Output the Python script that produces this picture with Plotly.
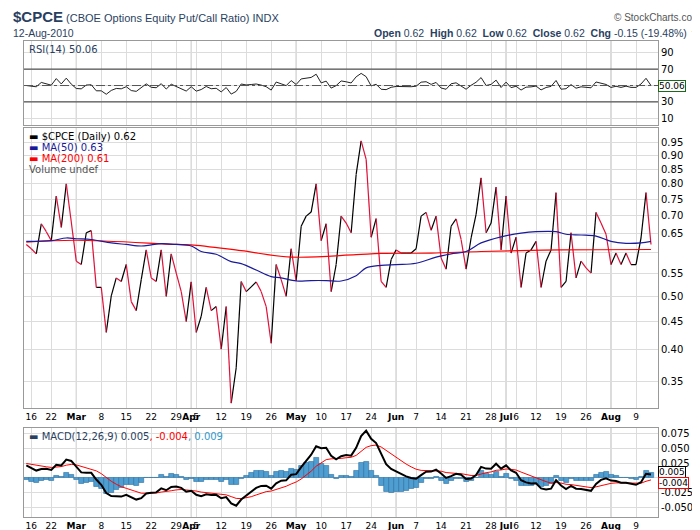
import pandas as pd
import plotly.graph_objects as go

# trading days 12-Feb-2010 .. 12-Aug-2010 (exchange holidays removed)
HOLIDAYS = ['2010-02-15', '2010-04-02', '2010-05-31', '2010-07-05']
dates = [d for d in pd.bdate_range('2010-02-12', '2010-08-12') if d.strftime('%Y-%m-%d') not in HOLIDAYS]

close = [
    0.621, 0.610, 0.597, 0.677, 0.655, 0.631, 0.760, 0.667, 0.800, 0.682,
    0.579, 0.571, 0.652, 0.658, 0.519, 0.519, 0.430, 0.501, 0.540, 0.532,
    0.571, 0.489, 0.471, 0.536, 0.607, 0.540, 0.532, 0.607, 0.500, 0.597,
    0.551, 0.510, 0.450, 0.531, 0.430, 0.460, 0.519, 0.471, 0.479, 0.401,
    0.479, 0.320, 0.371, 0.532, 0.510, 0.520, 0.531, 0.510, 0.479, 0.411,
    0.571, 0.536, 0.500, 0.610, 0.533, 0.670, 0.699, 0.711, 0.800, 0.631,
    0.677, 0.510, 0.571, 0.699, 0.679, 0.652, 0.832,
    0.957, 0.886, 0.640, 0.692, 0.532, 0.519, 0.583, 0.607, 0.599, 0.599,
    0.599, 0.610, 0.699, 0.710, 0.659, 0.699, 0.587, 0.560, 0.670, 0.691,
    0.634, 0.560, 0.638, 0.704, 0.820, 0.652, 0.679, 0.789, 0.607, 0.760,
    0.599, 0.640, 0.519, 0.599, 0.607, 0.629, 0.519, 0.579, 0.607, 0.771,
    0.519, 0.532, 0.652, 0.540, 0.579, 0.563, 0.551, 0.710, 0.679, 0.648,
    0.571, 0.599, 0.571, 0.599, 0.571, 0.571, 0.638, 0.771, 0.621,
]

ma50_idx = [0, 5, 8, 10, 13, 17, 20, 23, 25, 27, 30, 33, 35, 38, 41, 43, 46, 49, 51, 54, 57, 60, 63, 66,
            68, 71, 74, 78, 82, 85, 88, 91, 95, 99, 102, 106, 108, 111, 114, 117, 120, 123, 125]
ma50 = [0.629, 0.631, 0.638, 0.636, 0.634, 0.625, 0.621, 0.617, 0.620, 0.623, 0.621, 0.617, 0.603, 0.596,
        0.578, 0.573, 0.558, 0.543, 0.540, 0.533, 0.534, 0.534, 0.533, 0.545,
        0.563, 0.569, 0.571, 0.574, 0.589, 0.597, 0.603, 0.625, 0.641, 0.651, 0.655, 0.655, 0.648,
        0.646, 0.643, 0.629, 0.624, 0.625, 0.629]
ma200_idx = [0, 10, 30, 33, 43, 53, 66, 71, 81, 91, 107, 125]
ma200 = [0.627, 0.632, 0.621, 0.620, 0.605, 0.589, 0.595, 0.598, 0.599, 0.603, 0.607, 0.608]

UP, DOWN = '#000000', '#e0103a'
FONT = 'DejaVu Sans'
n = len(close)
xs = list(range(n))


def rsi(values, period=14, seed=0.03):
    g, l = seed, seed
    out = [50.0]
    for i in range(1, len(values)):
        ch = values[i] - values[i - 1]
        g = (g * (period - 1) + max(ch, 0)) / period
        l = (l * (period - 1) + max(-ch, 0)) / period
        out.append(100 - 100 / (1 + g / l))
    return out


def macd(values, e12=0.647, e26=0.622, sig=0.025):
    a12, a26, a9 = 2 / 13, 2 / 27, 2 / 10
    m_out, s_out = [], []
    for v in values:
        e12 += a12 * (v - e12)
        e26 += a26 * (v - e26)
        m = e12 - e26
        sig += a9 * (m - sig)
        m_out.append(m)
        s_out.append(sig)
    return m_out, s_out


rsi_vals = rsi(close)
macd_line, macd_sig = macd(close)
hist = [m - s for m, s in zip(macd_line, macd_sig)]

# tick labels: first trading day of each week, month name on first trading day of month
tickvals, ticktext, month_idx = [], [], []
for i in range(1, n):
    d, p = dates[i], dates[i - 1]
    if d.month != p.month:
        tickvals.append(i)
        ticktext.append('<b>' + d.strftime('%b') + '</b>')
        month_idx.append(i)
    elif d.isocalendar()[1] != p.isocalendar()[1]:
        tickvals.append(i)
        ticktext.append(str(d.day))

fig = go.Figure()

# price segments, black on up days, red on down days
for color, test in [(UP, lambda a, b: b >= a), (DOWN, lambda a, b: b < a)]:
    sx, sy = [], []
    for i in range(1, n):
        if test(close[i - 1], close[i]):
            sx += [i - 1, i, None]
            sy += [close[i - 1], close[i], None]
    fig.add_trace(go.Scatter(x=sx, y=sy, mode='lines', line=dict(color=color, width=1.2),
                             xaxis='x2', yaxis='y2', hoverinfo='skip'))
fig.add_trace(go.Scatter(x=ma200_idx, y=ma200, mode='lines', line=dict(color='#ff0000', width=1.2, shape='spline'),
                         xaxis='x2', yaxis='y2'))
fig.add_trace(go.Scatter(x=ma50_idx, y=ma50, mode='lines', line=dict(color='#1a1a9a', width=1.2, shape='spline'),
                         xaxis='x2', yaxis='y2'))

# RSI
fig.add_trace(go.Scatter(x=xs, y=rsi_vals, mode='lines', line=dict(color='#222', width=1), xaxis='x', yaxis='y'))

# MACD
fig.add_trace(go.Bar(x=xs, y=hist, marker=dict(color='#4f9ed2', line=dict(color='#2a6d9e', width=0.6)),
                     width=1.0, xaxis='x3', yaxis='y3'))
fig.add_trace(go.Scatter(x=xs, y=macd_sig, mode='lines', line=dict(color='#ff0000', width=1), xaxis='x3', yaxis='y3'))
fig.add_trace(go.Scatter(x=xs, y=macd_line, mode='lines', line=dict(color='#000', width=2), xaxis='x3', yaxis='y3'))

XR = [-0.46, 126.4]
grid = '#dcdcdc'
ax_common = dict(range=XR, tickvals=tickvals, ticktext=ticktext, showgrid=True, gridcolor=grid,
                 zeroline=False, showline=True, linecolor='#999', mirror=True, ticks='', tickangle=0,
                 tickfont=dict(family=FONT, size=9, color='#000'))
yax_common = dict(side='right', showgrid=True, gridcolor=grid, zeroline=False, showline=True,
                  linecolor='#999', mirror=True, ticks='', tickfont=dict(family=FONT, size=10, color='#000'))

fig.update_layout(
    width=700, height=530, margin=dict(l=16, r=50, t=0, b=0),
    paper_bgcolor='white', plot_bgcolor='white', showlegend=False, bargap=0,
    xaxis=dict(ax_common, domain=[0, 1], anchor='y', showticklabels=False),
    yaxis=dict(yax_common, domain=[0.779, 0.938], range=[1.4, 104.8], tickvals=[10, 30, 50, 70, 90],
               ticktext=['10', '30', '', '70', '90']),
    xaxis2=dict(ax_common, domain=[0, 1], anchor='y2'),
    yaxis2=dict(yax_common, domain=[0.245, 0.774], type='log', range=[-0.504, 0.0048],
                tickvals=[0.35, 0.40, 0.45, 0.50, 0.55, 0.60, 0.65, 0.70, 0.75, 0.80, 0.85, 0.90, 0.95],
                ticktext=['0.35', '0.40', '0.45', '0.50', '0.55', '', '0.65', '0.70', '0.75', '0.80', '0.85', '0.90', '0.95']),
    xaxis3=dict(ax_common, domain=[0, 1], anchor='y3'),
    yaxis3=dict(yax_common, domain=[0.04, 0.208], range=[-0.065, 0.084],
                tickvals=[-0.05, -0.025, 0, 0.025, 0.05, 0.075],
                ticktext=['-0.050', '-0.025', '', '0.025', '0.050', '0.075']),
)

shapes = []
for xa, ya in [('x', 'y'), ('x2', 'y2'), ('x3', 'y3')]:
    for i in month_idx:
        shapes.append(dict(type='line', xref=xa, yref=ya + ' domain', x0=i, x1=i, y0=0, y1=1,
                           line=dict(color='#b4b4b4', width=1), layer='below'))
for lvl in [30, 70]:
    shapes.append(dict(type='line', xref='x domain', yref='y', x0=0, x1=1, y0=lvl, y1=lvl,
                       line=dict(color='#555', width=1.2)))
shapes.append(dict(type='line', xref='x domain', yref='y', x0=0, x1=1, y0=50, y1=50,
                   line=dict(color='#555', width=1, dash='dashdot')))
fig.update_layout(shapes=shapes)

ann = [
    dict(x=-0.02, y=1.003, xref='paper', yref='paper', xanchor='left', yanchor='top', showarrow=False,
         text='<b><span style="font-size:15px">$CPCE</span></b> (CBOE Options Equity Put/Call Ratio) INDX',
         font=dict(family='Liberation Sans Narrow, Liberation Sans', size=11)),
    dict(x=-0.02, y=0.968, xref='paper', yref='paper', xanchor='left', yanchor='top', showarrow=False,
         text='12-Aug-2010', font=dict(family='Liberation Sans', size=10.5)),
    dict(x=1.07, y=0.997, xref='paper', yref='paper', xanchor='right', yanchor='top', showarrow=False,
         text='© StockCharts.com', font=dict(family='Liberation Sans', size=10, color='#555')),
    dict(x=1.07, y=0.968, xref='paper', yref='paper', xanchor='right', yanchor='top', showarrow=False,
         text='<b>Open</b> 0.62  <b>High</b> 0.62  <b>Low</b> 0.62  <b>Close</b> 0.62  <b>Chg</b> -0.15 (-19.48%) '
              '<span style="color:#a00000">▼</span>',
         font=dict(family='Liberation Sans', size=10.5)),
    dict(x=0.005, y=0.936, xref='paper', yref='paper', xanchor='left', yanchor='top', showarrow=False,
         text='RSI(14) 50.06', font=dict(family=FONT, size=10)),
    dict(x=0.005, y=0.205, xref='paper', yref='paper', xanchor='left', yanchor='top', showarrow=False,
         text='▬ MACD(12,26,9) 0.005<span style="color:#ff0000">, -0.004</span>'
              '<span style="color:#3399cc">, 0.009</span>', font=dict(family=FONT, size=10)),
]
legend_lines = [('▬ $CPCE (Daily) 0.62', '#000'), ('▬ MA(50) 0.63', '#1a1a9a'),
                ('▬ MA(200) 0.61', '#ff0000'), ('Volume undef', '#555')]
for k, (t, c) in enumerate(legend_lines):
    ann.append(dict(x=0.005, y=0.772 - k * 0.021, xref='paper', yref='paper', xanchor='left', yanchor='top',
                    showarrow=False, text=t, font=dict(family=FONT, size=10, color=c)))
# last-value boxes on the right axis
for ya, yv, txt, col in [('y', rsi_vals[-1], '50.06', '#1a6a1a'), ('y2', close[-1], '<b>0.62</b>', '#000'),
                         ('y3', 0.0105, '0.005', '#000'), ('y3', -0.0085, '-0.004', '#ff0000')]:
    ann.append(dict(x=1.0, y=yv, xref='paper', yref=ya, xanchor='left', yanchor='middle', showarrow=False,
                    text=txt, bgcolor='white', bordercolor=col, borderwidth=1, borderpad=0,
                    font=dict(family=FONT, size=9, color='#000')))
fig.update_layout(annotations=ann)

fig.write_html('out.html')
